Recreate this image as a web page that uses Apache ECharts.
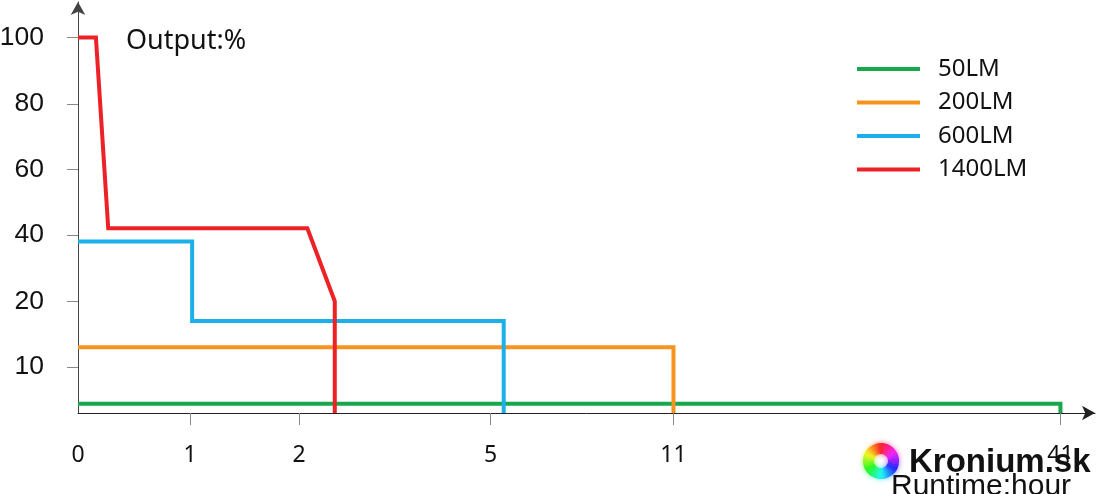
<!DOCTYPE html>
<html>
<head>
<meta charset="utf-8">
<script src="https://cdn.jsdelivr.net/npm/echarts@6/dist/echarts.min.js"></script>
<style>html,body{margin:0;padding:0;background:#fff;}#chart{width:1100px;height:494px;}</style>
</head>
<body>
<div id="chart"></div>
<script>
// ---- Tick labels / non-linear scale stops (as drawn in the reference) ----
const xTickHours  = [0, 1, 2, 5, 11, 41];
const xTickLabels = ['0', '1', '2', '5', '11', '41'];
const xScaleStops = [0, 1.004, 1.982, 3.70, 5.34, 8.81];   // visual spacing of the hour ticks
const yTickValues = [0, 10, 20, 40, 60, 80, 100];
const yTickLabels = ['', '10', '20', '40', '60', '80', '100'];
const yScaleStops = [0, 0.70, 1.70, 2.71, 3.70, 4.70, 5.71]; // visual spacing of the % ticks

// ---- Series (runtime hours, output %) ----
const seriesNames = ['50LM', '200LM', '600LM', '1400LM'];
const hours50 = [0, 41, 41];
const output50 = [2, 2, 0];
const hours200 = [0, 11, 11];
const output200 = [13, 13, 0];
const hours600 = [0, 1.02, 1.02, 5.43, 5.43];
const output600 = [38, 38, 17, 17, 0];
const hours1400 = [0, 0.16, 0.27, 2.13, 2.56, 2.56];
const output1400 = [100, 100, 42, 42, 20, 0];

const colors = ['#17a84b', '#f7931e', '#1cb0ea', '#ec2227'];

function piecewise(v, dom, rng) {
  for (let i = 1; i < dom.length; i++) {
    if (v <= dom[i] || i === dom.length - 1) {
      const t = (v - dom[i - 1]) / (dom[i] - dom[i - 1]);
      return rng[i - 1] + t * (rng[i] - rng[i - 1]);
    }
  }
  return rng[0];
}
const mapX = h => piecewise(h, xTickHours, xScaleStops);
const mapY = p => piecewise(p, yTickValues, yScaleStops);
function build(hs, os) { return hs.map((h, i) => [mapX(h), mapY(os[i])]); }
function nearestIdx(v, stops) {
  let best = 0;
  stops.forEach((s, i) => { if (Math.abs(s - v) < Math.abs(stops[best] - v)) best = i; });
  return best;
}

const allHours = [hours50, hours200, hours600, hours1400];
const allOut = [output50, output200, output600, output1400];

// colourful ring of the watermark logo
const ring = [];
const N = 36;
for (let i = 0; i < N; i++) {
  const a0 = i * 2 * Math.PI / N, a1 = (i + 1.15) * 2 * Math.PI / N;
  const deg = (i + 0.5) * 360 / N;
  const hue = ((270 - deg) % 360 + 360) % 360;
  ring.push({
    type: 'sector',
    shape: { cx: 881, cy: 461, r: 18, r0: 7, startAngle: a0, endAngle: a1 },
    style: { fill: 'hsl(' + hue + ',95%,55%)', shadowBlur: 5, shadowColor: 'hsla(' + hue + ',95%,60%,0.7)' },
    z: 100
  });
}

const chart = echarts.init(document.getElementById('chart'), null, { renderer: 'canvas' });
chart.setOption({
  animation: false,
  backgroundColor: '#fff',
  grid: { left: 78, right: 5, top: 2, bottom: 81, containLabel: false, outerBoundsMode: 'none' },
  legend: {
    orient: 'vertical', left: 857, top: 57, padding: 0,
    icon: 'rect', itemWidth: 63, itemHeight: 4, itemGap: 9.5,
    textStyle: { fontSize: 24, lineHeight: 24, fontFamily: 'Noto Sans', color: '#111', padding: [0, 0, 0, 13] },
    data: seriesNames
  },
  xAxis: {
    type: 'value', min: 0, max: 9.12,
    axisLine: { show: true, symbol: ['none', 'arrow'], symbolSize: [11, 13], lineStyle: { color: '#222', width: 1 } },
    axisTick: { show: true, customValues: xScaleStops.slice(1), length: 12, lineStyle: { color: '#888' } },
    axisLabel: {
      customValues: xScaleStops, margin: 31, fontSize: 23, fontFamily: 'Noto Sans', color: '#111',
      formatter: v => xTickLabels[nearestIdx(v, xScaleStops)]
    },
    splitLine: { show: false }
  },
  yAxis: {
    type: 'value', min: 0, max: 6.25,
    axisLine: { show: true, symbol: ['none', 'arrow'], symbolSize: [11, 13], lineStyle: { color: '#444', width: 1 } },
    axisTick: { show: true, customValues: yScaleStops.slice(1), length: 11, lineStyle: { color: '#888' } },
    axisLabel: {
      customValues: yScaleStops.slice(1), margin: 34, fontSize: 26.5, fontFamily: 'Liberation Sans', color: '#111',
      formatter: v => yTickLabels[nearestIdx(v, yScaleStops)]
    },
    splitLine: { show: false }
  },
  series: seriesNames.map((name, i) => ({
    name, type: 'line', showSymbol: false, symbol: 'none', color: colors[i],
    lineStyle: { width: 4, color: colors[i], cap: 'butt', join: 'miter' },
    data: build(allHours[i], allOut[i]), z: 2 + i
  })),
  graphic: [
    { type: 'text', left: 126, top: 28, style: { text: 'Output:%', font: '27px "Noto Sans"', fill: '#111' } },
    ...ring,
    { type: 'text', x: 909, y: 463, z: 101, style: { text: 'Kronium.sk', font: 'bold 33px "Liberation Sans"', fill: '#111', verticalAlign: 'middle' } },
    { type: 'text', x: 891, y: 487, z: 102, style: { text: 'Runtime:hour', font: '30px "Liberation Sans"', fill: '#111', verticalAlign: 'middle' } }
  ]
});
</script>
</body>
</html>
